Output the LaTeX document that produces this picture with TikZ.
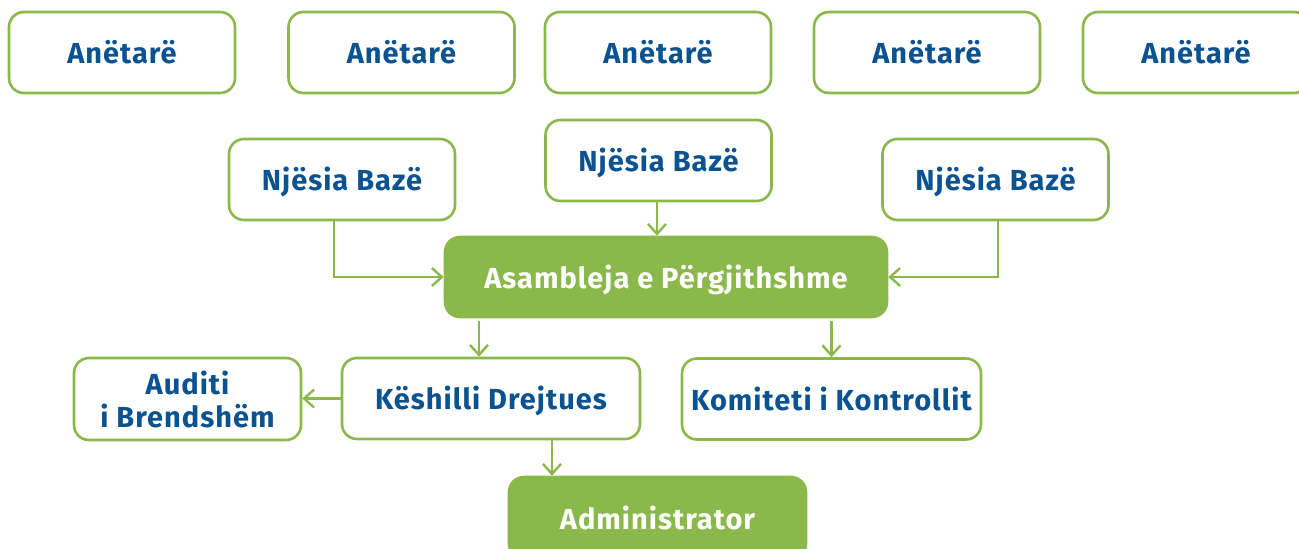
\documentclass[tikz,border=0pt]{standalone}
\usepackage{fontspec}
\setmainfont{Fira Sans}[LetterSpace=3.5]
\usetikzlibrary{arrows.meta}
\definecolor{grn}{HTML}{8AB84A}
\definecolor{blu}{HTML}{0B5290}
\begin{document}
\begin{tikzpicture}[x=1pt,y=-1pt,
  base/.style={draw=grn, line width=2.6pt, rounded corners=15pt, fill=white, text=blu,
    font=\fontsize{29}{33}\selectfont\bfseries, align=center, inner sep=0pt},
  box/.style={base, text height=22pt, text depth=0pt},
  fbox/.style={box, fill=grn, text=white},
  conn/.style={draw=grn, line width=2.4pt, -{Straight Barb[length=10pt,width=18pt,line width=2.4pt]}}]
\useasboundingbox (0,0) rectangle (1299,549);
\clip (0,0) rectangle (1299,549);
% top row
\node[box, minimum width=226pt, minimum height=81pt] (a1) at (122,52.5) {Anëtarë};
\node[box, minimum width=226pt, minimum height=81pt] (a2) at (401.5,52.5) {Anëtarë};
\node[box, minimum width=226pt, minimum height=81pt] (a3) at (658,52.5) {Anëtarë};
\node[box, minimum width=226pt, minimum height=81pt] (a4) at (927,52.5) {Anëtarë};
\node[box, minimum width=226pt, minimum height=81pt] (a5) at (1196,52.5) {Anëtarë};
% base units
\node[box, minimum width=226pt, minimum height=81pt] (nl) at (342,179.5) {Njësia Bazë};
\node[box, minimum width=226pt, minimum height=81pt] (nm) at (658.5,160.5) {Njësia Bazë};
\node[box, minimum width=226pt, minimum height=81pt] (nr) at (995.5,179.5) {Njësia Bazë};
% assembly
\node[fbox, minimum width=442pt, minimum height=80pt] (as) at (666,277) {Asambleja e Përgjithshme};
% third row
\node[box, minimum width=298pt, minimum height=81pt] (kd) at (491,398.5) {Këshilli Drejtues};
\node[base, minimum width=227pt, minimum height=82pt] (au) at (187.5,399) {Auditi\\i Brendshëm};
\node[box, minimum width=299pt, minimum height=81pt] (kk) at (831.5,399) {Komiteti i Kontrollit};
% administrator
\node[fbox, minimum width=297pt, minimum height=82pt] (ad) at (657.5,518) {Administrator};
% connectors
\draw[conn] ([xshift=-8pt]nl.south) |- (as.west);
\draw[conn] ([xshift=-1.5pt]nm.south) -- ([xshift=-1.5pt]nm.south |- as.north);
\draw[conn] ([xshift=2.5pt]nr.south) |- (as.east);
\draw[conn, shorten <=3pt] ([xshift=-12pt]kd.north |- as.south) -- ([xshift=-12pt]kd.north);
\draw[conn, shorten <=3pt] (kk.north |- as.south) -- (kk.north);
\draw[conn] (kd.west) -- (kd.west -| au.east);
\draw[conn] ([xshift=61pt]kd.south) -- ([xshift=61pt]kd.south |- ad.north);
\end{tikzpicture}
\end{document}
